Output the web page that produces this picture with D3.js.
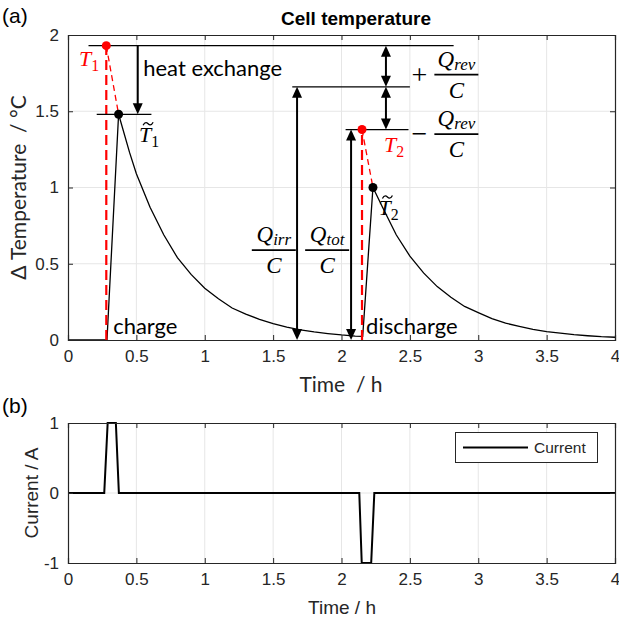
<!DOCTYPE html>
<html>
<head>
<meta charset="utf-8">
<script src="https://cdn.jsdelivr.net/npm/d3@7"></script>
<style>
  body { margin: 0; background: #fff; }
  svg { display: block; }
</style>
</head>
<body>
<svg id="chart" width="619" height="624"></svg>
<script>
// values
const timeTicks = [0, 0.5, 1, 1.5, 2, 2.5, 3, 3.5, 4];
const tempTicks = [0, 0.5, 1, 1.5, 2];
const currentTicks = [-1, 0, 1];

const tempTime = [0, 0.285, 0.37, 0.45, 0.5, 0.6, 0.7, 0.8, 0.9, 1.0, 1.1, 1.2, 1.3, 1.4, 1.5,
  1.6, 1.7, 1.8, 1.9, 2.0, 2.1, 2.155, 2.23, 2.3, 2.4, 2.5, 2.6, 2.7, 2.8, 2.9, 3.0,
  3.1, 3.2, 3.3, 3.4, 3.5, 3.6, 3.7, 3.8, 3.9, 4.0];
const tempValue = [0, 0, 1.48, 1.23, 1.09, 0.87, 0.69, 0.54, 0.43, 0.34, 0.27, 0.21, 0.17, 0.135, 0.107,
  0.085, 0.067, 0.053, 0.042, 0.033, 0.026, 0.024, 1.0, 0.87, 0.69, 0.55, 0.44, 0.35, 0.28, 0.22, 0.18,
  0.14, 0.11, 0.09, 0.07, 0.055, 0.045, 0.035, 0.028, 0.022, 0.018];

const currentTime = [0, 0.265, 0.29, 0.35, 0.372, 2.13, 2.148, 2.217, 2.24, 4];
const currentValue = [0, 0, 1, 1, 0, 0, -1, -1, 0, 0];

// ideal (adiabatic) jumps and the measured peaks
const idealTime = [0.28, 2.15];
const idealTemp = [1.93, 1.38];
const peakTime = [0.37, 2.23];
const peakTemp = [1.48, 1.0];
const irrLevel = 1.66;

const svg = d3.select("#chart");
const ink = "#262626";
const grid = "#e6e6e6";
const sans = "'Liberation Sans', Arial, sans-serif";
const soft = "Lato, 'Open Sans', sans-serif";
const serif = "'Liberation Serif', serif";

const left = 68, right = 615;
const top1 = 35, bottom1 = 340;
const top2 = 423, bottom2 = 563;

const x = d3.scaleLinear().domain([0, 4]).range([left, right]);
const y1 = d3.scaleLinear().domain([0, 2]).range([bottom1, top1]);
const y2 = d3.scaleLinear().domain([-1, 1]).range([bottom2, top2]);

function panel(y, yTicks, top, bottom) {
  const g = svg.append("g");
  g.append("g").selectAll("line").data(timeTicks.slice(1, -1)).join("line")
    .attr("x1", d => x(d)).attr("x2", d => x(d))
    .attr("y1", top).attr("y2", bottom)
    .attr("stroke", grid).attr("stroke-width", 1);
  g.append("g").selectAll("line").data(yTicks.slice(1, -1)).join("line")
    .attr("x1", left).attr("x2", right)
    .attr("y1", d => y(d)).attr("y2", d => y(d))
    .attr("stroke", grid).attr("stroke-width", 1);
  return g;
}

function frame(y, yTicks, top, bottom) {
  const g = svg.append("g");
  const fmt = d => String(d);
  g.append("g").attr("transform", `translate(0,${bottom})`)
    .call(d3.axisBottom(x).tickValues(timeTicks).tickSize(-5).tickPadding(10).tickFormat(fmt));
  g.append("g").attr("transform", `translate(0,${top})`)
    .call(d3.axisTop(x).tickValues(timeTicks).tickSize(-5).tickFormat(""));
  g.append("g").attr("transform", `translate(${left},0)`)
    .call(d3.axisLeft(y).tickValues(yTicks).tickSize(-5).tickPadding(9).tickFormat(fmt));
  g.append("g").attr("transform", `translate(${right},0)`)
    .call(d3.axisRight(y).tickValues(yTicks).tickSize(-5).tickFormat(""));
  g.selectAll(".domain").attr("stroke", ink).attr("stroke-width", 1.2);
  g.selectAll(".tick line").attr("stroke", ink);
  g.selectAll(".tick text").attr("fill", ink).attr("font-family", sans).attr("font-size", 17);
  return g;
}

// ---------- panel (a) ----------
panel(y1, tempTicks, top1, bottom1);

const line1 = d3.line().x((d, i) => x(tempTime[i])).y(d => y1(d));
svg.append("path").datum(tempValue)
  .attr("d", line1).attr("fill", "none").attr("stroke", "#000").attr("stroke-width", 1.3);

// red dashed jumps
idealTime.forEach((t, i) => {
  svg.append("line")
    .attr("x1", x(t)).attr("x2", x(t)).attr("y1", y1(0)).attr("y2", y1(idealTemp[i]))
    .attr("stroke", "#ff0000").attr("stroke-width", 2.2).attr("stroke-dasharray", "10,5");
  svg.append("line")
    .attr("x1", x(t)).attr("x2", x(peakTime[i]))
    .attr("y1", y1(idealTemp[i])).attr("y2", y1(peakTemp[i]))
    .attr("stroke", "#ff0000").attr("stroke-width", 1.3).attr("stroke-dasharray", "6,4");
});

frame(y1, tempTicks, top1, bottom1);

// annotation lines
const hLines = [
  [0.15, 2.82, idealTemp[0]],
  [0.21, 0.61, peakTemp[0]],
  [1.64, 2.5, irrLevel],
  [2.03, 2.49, idealTemp[1]]
];
svg.append("g").selectAll("line").data(hLines).join("line")
  .attr("x1", d => x(d[0])).attr("x2", d => x(d[1]))
  .attr("y1", d => y1(d[2])).attr("y2", d => y1(d[2]))
  .attr("stroke", "#000").attr("stroke-width", 1.2);

function arrow(t, from, to, heads) {
  const px = x(t), ya = y1(from), yb = y1(to);
  const hl = 11, hw = 5;
  const g = svg.append("g");
  const dir = Math.sign(yb - ya);
  g.append("line").attr("x1", px).attr("x2", px)
    .attr("y1", heads === 2 ? ya + dir * (hl - 2) : ya).attr("y2", yb - dir * (hl - 2))
    .attr("stroke", "#000").attr("stroke-width", 2);
  const tri = (tipY, d) => `M${px},${tipY}L${px - hw},${tipY - d * hl}L${px + hw},${tipY - d * hl}Z`;
  g.append("path").attr("d", tri(yb, dir)).attr("fill", "#000");
  if (heads === 2) g.append("path").attr("d", tri(ya, -dir)).attr("fill", "#000");
}
arrow(0.51, idealTemp[0], peakTemp[0], 1);
arrow(2.325, idealTemp[0], irrLevel, 2);
arrow(2.325, irrLevel, idealTemp[1], 2);
arrow(1.675, irrLevel, 0, 2);
arrow(2.07, idealTemp[1], 0, 2);

// dots
svg.append("g").selectAll("circle").data(idealTime).join("circle")
  .attr("cx", d => x(d)).attr("cy", (d, i) => y1(idealTemp[i])).attr("r", 4.5).attr("fill", "#ff0000");
svg.append("g").selectAll("circle").data(peakTime).join("circle")
  .attr("cx", d => x(d)).attr("cy", (d, i) => y1(peakTemp[i])).attr("r", 4.5).attr("fill", "#000");

// texts
function plain(t, v, s) {
  svg.append("text").attr("x", x(t)).attr("y", y1(v)).text(s)
    .attr("font-family", soft).attr("font-size", 22).attr("fill", "#000");
}
plain(0.55, 1.73, "heat exchange");
plain(0.33, 0.04, "charge");
plain(2.18, 0.04, "discharge");

function sym(px, py, base, sub, color, tilde, size = 22) {
  const t = svg.append("text").attr("x", px).attr("y", py)
    .attr("font-family", serif).attr("font-size", size).attr("fill", color);
  t.append("tspan").attr("font-style", "italic").text(base);
  t.append("tspan").attr("dy", 5).attr("font-size", size * 0.72).text(sub);
  if (tilde) {
    const cx = px + 9, cy = py - 18;
    svg.append("path")
      .attr("d", `M${cx - 5},${cy + 1.5}C${cx - 3},${cy - 2.5} ${cx - 1},${cy - 1} ${cx},${cy}` +
        `S${cx + 3},${cy + 2.5} ${cx + 5},${cy - 1.5}`)
      .attr("fill", "none").attr("stroke", color).attr("stroke-width", 1.3);
  }
}
sym(x(0.08), y1(1.8), "T", "1", "#ff0000", false);
sym(x(0.52), y1(1.30), "T", "1", "#000", true);
sym(x(2.31), y1(1.23), "T", "2", "#ff0000", false);
sym(x(2.27), y1(0.82), "T", "2", "#000", true);

function frac(cx, barV, sub) {
  const by = y1(barV);
  svg.append("line").attr("x1", cx - 22).attr("x2", cx + 22).attr("y1", by).attr("y2", by)
    .attr("stroke", "#000").attr("stroke-width", 1.8);
  const n = svg.append("text").attr("x", cx).attr("y", by - 8).attr("text-anchor", "middle")
    .attr("font-family", serif).attr("font-style", "italic").attr("font-size", 23);
  n.append("tspan").text("Q");
  n.append("tspan").attr("dy", 3).attr("font-size", 17).text(sub);
  svg.append("text").attr("x", cx).attr("y", by + 23).attr("text-anchor", "middle")
    .attr("font-family", serif).attr("font-style", "italic").attr("font-size", 23).text("C");
}
frac(x(1.505), 0.59, "irr");
frac(x(1.895), 0.59, "tot");
frac(x(2.84), 1.74, "rev");
frac(x(2.84), 1.35, "rev");
svg.append("text").attr("x", x(2.57)).attr("y", y1(1.74) + 9).attr("text-anchor", "middle")
  .attr("font-family", serif).attr("font-size", 28).text("+");
svg.append("text").attr("x", x(2.57)).attr("y", y1(1.35) + 9).attr("text-anchor", "middle")
  .attr("font-family", serif).attr("font-size", 28).text("\u2212");

svg.append("text").attr("x", 356).attr("y", 25).attr("text-anchor", "middle")
  .attr("font-family", sans).attr("font-weight", "bold").attr("font-size", 19).attr("fill", "#000")
  .text("Cell temperature");
svg.append("text").attr("x", 341).attr("y", 392).attr("text-anchor", "middle")
  .attr("font-family", soft).attr("font-size", 21).attr("fill", ink).attr("xml:space", "preserve")
  .text("Time  / h");
svg.append("text").attr("transform", `translate(26,${(top1 + bottom1) / 2}) rotate(-90)`)
  .attr("text-anchor", "middle").attr("font-family", soft).attr("font-size", 21).attr("fill", ink)
  .attr("xml:space", "preserve").text("\u0394 Temperature  / \u00b0C");
svg.append("text").attr("x", 2).attr("y", 23).attr("font-family", sans).attr("font-size", 21)
  .text("(a)");

// ---------- panel (b) ----------
panel(y2, currentTicks, top2, bottom2);
const line2 = d3.line().x((d, i) => x(currentTime[i])).y(d => y2(d));
svg.append("path").datum(currentValue)
  .attr("d", line2).attr("fill", "none").attr("stroke", "#000").attr("stroke-width", 2);
frame(y2, currentTicks, top2, bottom2);

svg.append("text").attr("x", 342).attr("y", 614).attr("text-anchor", "middle")
  .attr("font-family", sans).attr("font-size", 19).attr("fill", ink).text("Time / h");
svg.append("text").attr("transform", `translate(38,${(top2 + bottom2) / 2}) rotate(-90)`)
  .attr("text-anchor", "middle").attr("font-family", sans).attr("font-size", 19).attr("fill", ink)
  .text("Current / A");
svg.append("text").attr("x", 2).attr("y", 413).attr("font-family", sans).attr("font-size", 21)
  .text("(b)");

// legend
const lg = svg.append("g");
lg.append("rect").attr("x", 455.5).attr("y", 432.5).attr("width", 142).attr("height", 30)
  .attr("fill", "#fff").attr("stroke", ink).attr("stroke-width", 1);
lg.append("line").attr("x1", 463).attr("x2", 528).attr("y1", 447.5).attr("y2", 447.5)
  .attr("stroke", "#000").attr("stroke-width", 2);
lg.append("text").attr("x", 534).attr("y", 453).attr("font-family", sans).attr("font-size", 15.5)
  .attr("fill", ink).text("Current");
</script>
</body>
</html>
